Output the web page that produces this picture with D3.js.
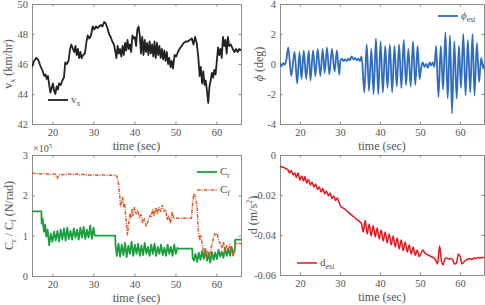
<!DOCTYPE html>
<html>
<head>
<meta charset="utf-8">
<script src="https://cdn.jsdelivr.net/npm/d3@7"></script>
<style>
  body { margin: 0; background: #fff; }
  svg text { font-family: "Liberation Serif", "Times New Roman", serif; fill: #555; }
</style>
</head>
<body>
<div id="chart"></div>
<script>
// ---- data: [time (sec), value] ----
const timeTicks = [20, 30, 40, 50, 60];

const vxTicks = [42, 44, 46, 48, 50];
const vxSeries = [
  [15.0,45.8],[15.5,46.2],[16.0,46.4],[16.5,46.3],[17.0,45.9],[17.5,45.6],[18.0,45.2],[18.3,45.3],
  [18.6,45.0],[18.9,45.2],[19.2,44.6],[19.5,44.1],[19.8,44.4],[20.1,44.7],[20.4,44.2],[20.7,44.0],
  [21.0,44.5],[21.3,44.3],[21.6,44.7],[22.0,44.6],[22.4,44.9],[22.8,45.1],[23.1,46.1],[23.5,46.0],
  [23.9,46.2],[24.3,47.0],[24.6,47.3],[25.0,47.0],[25.3,46.8],[25.6,47.2],[25.9,46.6],[26.2,47.0],
  [26.5,46.4],[26.8,46.8],[27.1,46.4],[27.5,46.6],[27.9,46.7],[28.3,47.5],[28.6,47.9],[29.0,47.7],
  [29.4,47.9],[29.8,48.5],[30.2,48.3],[30.6,48.5],[31.0,48.4],[31.4,48.5],[31.8,48.6],[32.2,48.5],
  [32.6,48.8],[33.0,48.7],[33.4,48.4],[33.8,48.0],[34.2,47.8],[34.6,47.5],[35.0,47.3],[35.3,46.9],
  [35.6,46.4],[35.9,47.2],[36.2,46.7],[36.5,47.0],[36.8,46.5],[37.1,47.2],[37.4,46.6],[37.7,47.4],
  [38.0,46.9],[38.3,47.6],[38.6,47.0],[38.9,47.3],[39.2,46.8],[39.5,47.9],[39.8,47.7],[40.1,47.8],
  [40.4,47.2],[40.7,48.3],[41.0,48.5],[41.3,47.9],[41.6,46.7],[41.9,47.8],[42.2,46.6],[42.5,47.6],
  [42.8,46.8],[43.1,47.4],[43.4,46.6],[43.7,47.5],[44.0,46.7],[44.3,47.3],[44.6,46.5],[44.9,47.5],
  [45.2,46.4],[45.5,47.4],[45.8,46.6],[46.1,47.2],[46.4,46.4],[46.7,47.0],[47.0,46.3],[47.3,46.9],
  [47.6,46.2],[47.9,46.8],[48.2,46.0],[48.5,46.4],[48.8,45.8],[49.1,46.2],[49.4,45.7],[49.8,46.6],
  [50.2,46.5],[50.6,46.8],[51.0,47.0],[51.5,47.2],[52.0,47.4],[52.5,47.5],[53.0,47.5],[53.5,47.6],
  [54.0,47.7],[54.4,47.3],[54.8,47.8],[55.2,47.4],[55.6,46.4],[55.9,45.2],[56.2,45.8],[56.5,44.7],
  [56.8,45.5],[57.1,44.6],[57.4,44.9],[57.7,44.2],[58.0,43.4],[58.3,44.5],[58.6,44.9],[58.9,45.4],
  [59.2,45.1],[59.5,45.6],[59.8,45.3],[60.1,46.2],[60.4,47.1],[60.7,46.6],[61.0,47.0],[61.3,46.4],
  [61.6,47.8],[61.9,47.2],[62.2,47.6],[62.5,46.7],[62.8,47.8],[63.1,47.2],[63.5,47.3],[64.0,47.0],
  [64.4,46.8],[64.8,47.0],[65.2,46.8],[65.6,47.0],[66.0,46.9]
];

const phiTicks = [-4, -2, 0, 2, 4];
const phiSeries = [
  [15.0,0.1],[15.4,-0.15],[15.8,0.05],[16.2,-0.05],[16.6,0.3],
  [17.07,1.1],[17.81,-0.8],[18.64,0.8],[19.30,-1.3],[19.88,0.8],[20.38,-1.0],[20.95,0.9],[21.53,-1.0],
  [22.19,0.9],[22.61,-1.1],[23.27,0.9],[23.85,-0.8],[24.43,1.0],[25.09,-0.8],[25.67,1.0],[26.16,-0.6],
  [26.74,1.1],[27.32,-0.7],[27.98,1.0],[28.65,-0.5],[29.22,0.9],[29.80,-0.7],
  [30.1,0.2],[30.5,0.35],[30.9,0.2],[31.3,0.3],[31.7,0.2],[32.1,0.35],[32.5,0.25],[32.9,0.5],
  [33.4,0.3],[33.8,0.4],[34.2,0.25],[34.6,0.35],[35.0,0.2],[35.4,0.5],
  [36.09,-1.9],[36.67,1.3],[37.25,-1.8],[37.83,1.0],[38.40,-2.0],[38.98,1.7],[39.56,-2.0],[40.14,1.5],
  [40.72,-1.9],[41.30,1.2],[41.88,-1.6],[42.46,1.3],[43.04,-1.9],[43.61,1.2],[44.19,-1.5],[44.77,1.3],
  [45.35,-1.6],[45.93,1.6],[46.51,-1.4],[47.09,1.0],[47.67,-1.5],[48.25,1.5],[48.82,-1.4],[49.40,1.2],
  [49.90,-1.0],
  [50.3,-0.2],[50.7,0.1],[51.1,-0.2],[51.55,0.0],[52.0,-0.25],[52.4,0.1],[52.8,-0.1],[53.2,0.1],[53.6,-0.2],
  [54.03,1.2],[54.61,-2.2],[55.19,1.2],[55.77,-1.7],[56.35,2.1],[56.93,-2.3],[57.51,1.9],[58.0,-3.3],
  [58.58,1.5],[59.16,-2.3],[59.74,1.2],[60.24,-1.6],[60.82,2.0],[61.39,-2.1],[61.97,1.6],[62.55,-1.9],
  [63.13,2.0],[63.63,-2.1],[64.21,1.4],[64.79,-1.2],[65.28,0.4],[65.86,-0.3],[66.0,0.0]
];

// cornering stiffness, in units of 1e5 N/rad
const stiffTicks = [0, 1, 2, 3];
const crSeries = [
  [15.0,1.6],[17.3,1.6],[17.35,1.3],[17.6,1.42],[17.9,1.1],[18.2,1.28],[18.5,0.98],[18.8,1.15],
  [19.2,0.76],[19.6,1.05],[20.0,0.85],[20.4,1.1],[20.8,0.88],[21.2,1.12],[21.6,0.85],[22.0,1.15],
  [22.4,0.9],[22.8,1.18],[23.2,0.88],[23.6,1.2],[24.0,0.92],[24.4,1.12],[24.8,0.9],[25.2,1.18],
  [25.6,0.95],[26.0,1.15],[26.4,0.9],[26.8,1.2],[27.2,0.95],[27.6,1.22],[28.0,0.92],[28.4,1.15],
  [28.8,0.95],[29.2,1.25],[29.6,0.92],[30.0,1.2],[30.3,1.0],[35.3,1.0],
  [35.4,0.75],[35.7,0.5],[36.1,0.8],[36.5,0.48],[36.9,0.78],[37.3,0.52],[37.7,0.82],[38.1,0.47],
  [38.5,0.75],[38.9,0.55],[39.3,0.85],[39.7,0.5],[40.1,0.78],[40.5,0.55],[40.9,0.8],[41.3,0.5],
  [41.7,0.75],[42.1,0.52],[42.5,0.82],[42.9,0.55],[43.3,0.72],[43.7,0.5],[44.1,0.78],[44.5,0.55],
  [44.9,0.8],[45.3,0.5],[45.7,0.72],[46.1,0.55],[46.5,0.78],[46.9,0.52],[47.3,0.7],[47.7,0.5],
  [48.1,0.78],[48.5,0.55],[48.9,0.72],[49.3,0.5],[49.7,0.78],[50.1,0.55],[50.5,0.7],[50.7,0.68],
  [54.1,0.68],[54.2,0.45],[54.5,0.38],[54.9,0.55],[55.3,0.35],[55.7,0.58],[56.1,0.4],[56.5,0.62],
  [56.9,0.42],[57.3,0.65],[57.7,0.38],[58.1,0.55],[58.5,0.33],[58.9,0.6],[59.3,0.4],[59.7,0.58],
  [60.1,0.42],[60.5,0.65],[60.9,0.48],[61.3,0.6],[61.7,0.45],[62.1,0.7],[62.5,0.5],[62.9,0.68],
  [63.3,0.5],[63.7,0.72],[64.1,0.55],[64.45,0.62],[64.6,0.9],[66.0,0.9]
];
const cfSeries = [
  [15,2.55],[16,2.54],[17,2.53],[18,2.54],[19,2.52],[20,2.53],[20.8,2.52],[21.0,2.45],[21.2,2.42],
  [21.5,2.5],[22,2.52],[23,2.51],[24,2.53],[25,2.52],[26,2.53],[26.5,2.5],[27,2.52],[28,2.51],
  [29,2.5],[30,2.51],[31,2.5],[32,2.51],[33,2.5],[34,2.5],[35,2.5],[35.5,2.49],[35.8,2.45],
  [36.1,2.3],[36.4,2.0],[36.6,1.72],[36.9,1.85],[37.1,1.95],[37.4,1.72],[37.6,1.8],[37.9,1.45],
  [38.3,1.02],[38.6,1.3],[38.9,1.55],[39.1,1.45],[39.4,1.65],[39.6,1.5],[40.0,1.7],[40.4,1.55],
  [40.8,1.62],[41.2,1.45],[41.6,1.52],[42.0,1.3],[42.4,1.42],[42.9,1.22],[43.3,1.35],[43.8,1.5],
  [44.1,1.45],[44.4,1.65],[44.8,1.5],[45.2,1.7],[45.6,1.55],[46.0,1.7],[46.4,1.6],[46.8,1.75],
  [47.2,1.6],[47.6,1.65],[48.0,1.4],[48.4,1.5],[48.8,1.3],[49.2,1.6],[49.5,1.43],[53.9,1.43],
  [54.2,1.8],[54.5,2.05],[54.9,1.95],[55.3,1.7],[55.6,1.1],[55.9,0.9],[56.2,1.0],[56.6,0.75],
  [57.0,0.55],[57.3,0.7],[57.6,0.45],[57.9,0.6],[58.3,0.5],[58.7,0.7],[59.1,0.85],[59.5,1.05],
  [59.9,1.0],[60.2,1.05],[60.5,0.9],[60.9,0.8],[61.3,0.7],[61.7,0.85],[62.1,0.6],[62.5,0.75],
  [62.9,0.65],[63.3,0.78],[63.7,0.6],[64.1,0.48],[64.5,0.7],[64.8,0.82],[66,0.8]
];

const dTicks = [-0.06, -0.04, -0.02, 0];
const dSeries = [
  [15.0,-0.0057],[15.5,-0.0060],[16.0,-0.0063],[16.5,-0.0068],[17.0,-0.0075],[17.4,-0.0090],
  [17.8,-0.0078],[18.3,-0.0100],[18.7,-0.0090],[19.1,-0.0112],[19.5,-0.0090],[20.0,-0.0125],
  [20.4,-0.0105],[20.9,-0.0130],[21.2,-0.0108],[21.7,-0.0140],[22.1,-0.0122],[22.6,-0.0150],
  [23.0,-0.0135],[23.5,-0.0160],[23.9,-0.0145],[24.4,-0.0172],[24.8,-0.0160],[25.3,-0.0185],
  [25.7,-0.0168],[26.2,-0.0195],[26.6,-0.0180],[27.1,-0.0205],[27.5,-0.0190],[28.0,-0.0218],
  [28.4,-0.0205],[28.9,-0.0228],[29.3,-0.0215],[29.8,-0.0240],[30.1,-0.0255],[30.5,-0.0262],
  [31,-0.0268],[32,-0.0285],[33,-0.0302],[34,-0.0318],[35,-0.0335],[35.4,-0.0345],[35.8,-0.0385],
  [36.3,-0.0328],[36.8,-0.0395],[37.3,-0.0345],[37.8,-0.0405],[38.3,-0.0352],[38.8,-0.0410],
  [39.3,-0.0365],[39.8,-0.0420],[40.3,-0.0375],[40.8,-0.0430],[41.3,-0.0385],[41.8,-0.0440],
  [42.3,-0.0395],[42.8,-0.0450],[43.3,-0.0405],[43.8,-0.0460],[44.3,-0.0415],[44.8,-0.0470],
  [45.3,-0.0425],[45.8,-0.0478],[46.3,-0.0435],[46.8,-0.0485],[47.3,-0.0450],[47.8,-0.0495],
  [48.3,-0.0460],[48.8,-0.0502],[49.3,-0.0475],[49.8,-0.0508],[50.3,-0.0490],[50.7,-0.0475],
  [51.2,-0.0490],[52.0,-0.0500],[52.5,-0.0505],[53.0,-0.0510],[53.5,-0.0515],[54.0,-0.0530],
  [54.4,-0.0545],[54.9,-0.0455],[55.4,-0.0535],[55.8,-0.0548],[56.2,-0.0520],[56.7,-0.0515],
  [57.2,-0.0520],[57.7,-0.0518],[58.2,-0.0525],[58.6,-0.0545],[59.1,-0.0540],[59.6,-0.0495],
  [60.1,-0.0510],[60.5,-0.0545],[61.0,-0.0535],[61.5,-0.0525],[62.0,-0.0520],[62.5,-0.0518],
  [63.0,-0.0522],[63.5,-0.0515],[64.0,-0.0517],[64.5,-0.0512],[65.0,-0.0515],[65.5,-0.0512],
  [66.0,-0.0512]
];

// ---- drawing ----
const width = 485, height = 305;
const svg = d3.select("#chart").append("svg")
  .attr("width", width)
  .attr("height", height);

const axisColor = "#8c8c8c";
const dashDot = "3.5,1.2,1,1.2";
let clipId = 0;

function makePanel(cfg) {
  const x = d3.scaleLinear().domain([15, 66]).range([cfg.left, cfg.right]);
  const y = d3.scaleLinear().domain(cfg.yDomain).range([cfg.bottom, cfg.top]);
  const g = svg.append("g");

  // ticks point inward on all four sides, like a boxed matlab axes
  const axes = [
    [d3.axisBottom(x).tickValues(timeTicks).tickPadding(5), `translate(0,${cfg.bottom})`],
    [d3.axisTop(x).tickValues(timeTicks).tickFormat(""), `translate(0,${cfg.top})`],
    [d3.axisLeft(y).tickValues(cfg.yTicks).tickFormat(cfg.fmt).tickPadding(4), `translate(${cfg.left},0)`],
    [d3.axisRight(y).tickValues(cfg.yTicks).tickFormat(""), `translate(${cfg.right},0)`]
  ];
  axes.forEach(([ax, tr]) => {
    const a = g.append("g").attr("transform", tr)
      .call(ax.tickSizeInner(-2.5).tickSizeOuter(0));
    a.attr("font-family", null).attr("font-size", null);
    a.select(".domain").attr("stroke", axisColor);
    a.selectAll(".tick line").attr("stroke", axisColor);
    a.selectAll(".tick text").attr("fill", "#555").style("font-size", "10.5px");
  });

  // x axis title
  g.append("text")
    .attr("x", (cfg.left + cfg.right) / 2)
    .attr("y", cfg.bottom + 26)
    .attr("text-anchor", "middle")
    .style("font-size", "12px")
    .text("time (sec)");

  // y axis title (rotated, with optional subscripts)
  const yl = g.append("text")
    .attr("transform", `translate(${cfg.yLabelX},${(cfg.top + cfg.bottom) / 2}) rotate(-90)`)
    .attr("text-anchor", "middle")
    .style("font-size", "12px");
  cfg.yLabel.forEach(part => {
    const t = yl.append("tspan").text(part.t);
    if (part.sub) t.attr("dy", 3).style("font-size", "8px");
    else if (part.sup) t.attr("dy", -5).style("font-size", "8px");
    else if (part.back) t.attr("dy", part.back);
    if (part.italic) t.style("font-style", "italic");
  });

  // clip for the data lines
  const id = "clip" + (clipId++);
  svg.append("clipPath").attr("id", id).append("rect")
    .attr("x", cfg.left).attr("y", cfg.top)
    .attr("width", cfg.right - cfg.left).attr("height", cfg.bottom - cfg.top);

  cfg.series.forEach(s => {
    const line = d3.line()
      .x(d => x(d[0]))
      .y(d => y(d[1]))
      .curve(s.smooth ? d3.curveMonotoneX : d3.curveLinear);
    g.append("path")
      .datum(s.data)
      .attr("clip-path", `url(#${id})`)
      .attr("fill", "none")
      .attr("stroke", s.color)
      .attr("stroke-width", s.width)
      .attr("stroke-dasharray", s.dash || null)
      .attr("stroke-linejoin", "round")
      .attr("d", line);
  });

  // legend entries
  cfg.legend.forEach(l => {
    g.append("line")
      .attr("x1", l.x).attr("x2", l.x + 20)
      .attr("y1", l.y).attr("y2", l.y)
      .attr("stroke", l.color)
      .attr("stroke-width", l.width)
      .attr("stroke-dasharray", l.dash || null);
    const t = g.append("text")
      .attr("x", l.x + 23)
      .attr("y", l.y + 3)
      .style("font-size", "11px");
    const main = t.append("tspan").text(l.main);
    if (l.italic) main.style("font-style", "italic");
    t.append("tspan").attr("dy", 3).style("font-size", "8px").text(l.sub);
  });

  return { x, y, g };
}

const intFmt = d => String(d);

makePanel({
  left: 32, right: 241, top: 4, bottom: 124,
  yDomain: [42, 50], yTicks: vxTicks, fmt: intFmt, yLabelX: 12,
  yLabel: [{ t: "v" }, { t: "x", sub: true }, { t: " (km/hr)", back: -3 }],
  series: [{ data: vxSeries, color: "#222", width: 1.8 }],
  legend: [{ x: 48, y: 100, color: "#222", width: 1.8, main: "v", sub: "x" }]
});

makePanel({
  left: 280, right: 484, top: 4, bottom: 124,
  yDomain: [-4, 4], yTicks: phiTicks, fmt: intFmt, yLabelX: 263,
  yLabel: [{ t: "\u03D5", italic: true }, { t: " (deg)" }],
  series: [{ data: phiSeries, color: "#2f6cc0", width: 1.8, smooth: true }],
  legend: [{ x: 438, y: 16, color: "#2f6cc0", width: 1.8, main: "\u03D5", italic: true, sub: "est" }]
});

const p3 = makePanel({
  left: 32, right: 241, top: 155, bottom: 276,
  yDomain: [0, 3], yTicks: stiffTicks, fmt: intFmt, yLabelX: 13,
  yLabel: [{ t: "C" }, { t: "r", sub: true }, { t: " / C", back: -3 }, { t: "f", sub: true }, { t: " (N/rad)", back: -3 }],
  series: [
    { data: crSeries, color: "#1b9e3e", width: 1.8 },
    { data: cfSeries, color: "#dd5a26", width: 1.5, dash: dashDot }
  ],
  legend: [
    { x: 197, y: 172, color: "#1b9e3e", width: 1.8, main: "C", sub: "r" },
    { x: 197, y: 190, color: "#dd5a26", width: 1.5, dash: dashDot, main: "C", sub: "f" }
  ]
});

// the exponent of the stiffness axis
const expo = p3.g.append("text").attr("x", 33).attr("y", 152).style("font-size", "10px");
expo.append("tspan").text("\u00D710");
expo.append("tspan").attr("dy", -4).style("font-size", "7px").text("5");

makePanel({
  left: 280, right: 484, top: 155, bottom: 275,
  yDomain: [-0.06, 0], yTicks: dTicks, fmt: d => (d === 0 ? "0" : d.toFixed(2)), yLabelX: 257,
  yLabel: [{ t: "d (m/s" }, { t: "2", sup: true }, { t: ")", back: 5 }],
  series: [{ data: dSeries, color: "#e8161e", width: 1.5, smooth: true }],
  legend: [{ x: 297, y: 263, color: "#e8161e", width: 1.5, main: "d", sub: "est" }]
});
</script>
</body>
</html>
